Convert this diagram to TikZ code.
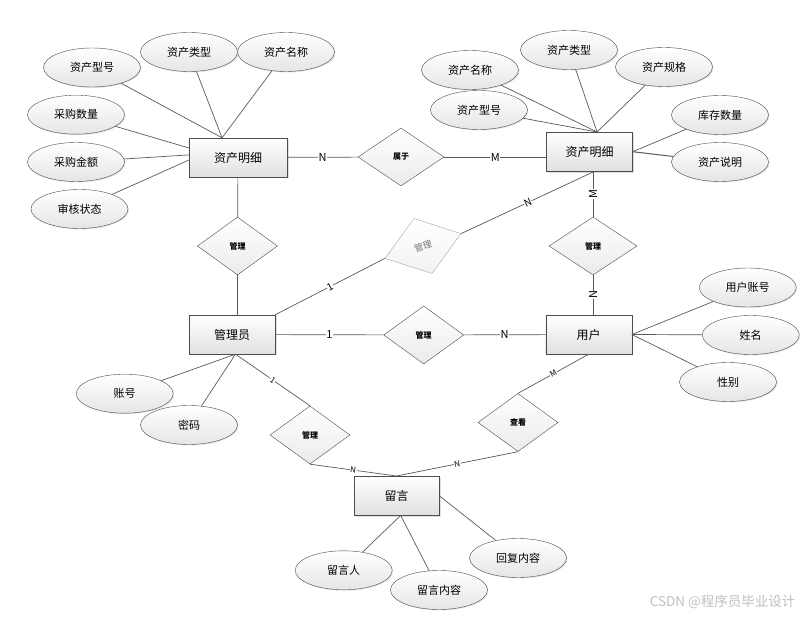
\documentclass[tikz,border=0pt]{standalone}
\usepackage{fontspec}
\setmainfont{Noto Sans CJK SC}
\usetikzlibrary{positioning,shapes.geometric,shadows,calc}

\begin{document}
\begin{tikzpicture}[x=1pt,y=-1pt,
  entity/.style={draw=black!70,top color=white,bottom color=black!12,minimum width=86,minimum height=39,inner sep=0pt,font=\fontsize{12}{14}\selectfont,drop shadow={shadow xshift=1.5pt,shadow yshift=-1.5pt,opacity=0.25}},
  attr/.style={ellipse,draw=black!70,top color=white,bottom color=black!10,minimum width=97,minimum height=39,inner sep=0pt,font=\fontsize{11}{13}\selectfont,drop shadow={shadow xshift=1pt,shadow yshift=-1pt,opacity=0.2}},
  rel/.style={diamond,draw=black!70,top color=white,bottom color=black!8,minimum width=80,minimum height=58,inner sep=0pt,font=\bfseries\fontsize{8}{10}\selectfont},
  link/.style={draw=black!65,line width=0.7pt},
  card/.style={fill=white,inner sep=0.5pt,font=\fontsize{11}{12}\selectfont},
  smallcard/.style={card,font=\fontsize{8}{9}\selectfont}]
\useasboundingbox (0,0) rectangle (811,617);

\node[entity,minimum width=98] (dlL) at (238,157.5) {资产明细};
\node[entity] (dlR) at (589.5,151.7) {资产明细};
\node[entity] (gly) at (232,334.5) {管理员};
\node[entity] (yh) at (588.7,334.5) {用户};
\node[entity,minimum width=85] (ly) at (396.5,495.7) {留言};

\node[rel,minimum width=86] (sy) at (401,157) {属于};
\node[rel] (glA) at (237.5,246) {管理};
\node[rel,rotate=18,draw=black!35,bottom color=black!5,text=black!55,font=\fontsize{9}{10}\selectfont] (glB) at (423,246) {管理};
\node[rel,minimum width=88] (glC) at (593,246) {管理};
\node[rel] (glD) at (423.7,335) {管理};
\node[rel] (glE) at (310,435) {管理};
\node[rel] (ck) at (518,422.5) {查看};

\node[attr] (xhL) at (92,67.5) {资产型号};
\node[attr] (lxL) at (189,52) {资产类型};
\node[attr] (mcL) at (286,52) {资产名称};
\node[attr] (cgsl) at (76,114.7) {采购数量};
\node[attr] (cgje) at (76,162) {采购金额};
\node[attr] (shzt) at (79.5,209) {审核状态};

\node[attr] (mcR) at (470,70) {资产名称};
\node[attr] (lxR) at (569,50) {资产类型};
\node[attr] (gg) at (664,67) {资产规格};
\node[attr] (xhR) at (479,110) {资产型号};
\node[attr] (kcsl) at (720,115) {库存数量};
\node[attr] (zcsm) at (720,162) {资产说明};

\node[attr] (yhzh) at (747.7,287.5) {用户账号};
\node[attr] (xm) at (750.7,335) {姓名};
\node[attr] (xb) at (728,382) {性别};

\node[attr] (zh) at (124.7,393.7) {账号};
\node[attr] (mm) at (189,425) {密码};

\node[attr] (lyr) at (343.7,570.3) {留言人};
\node[attr] (lynr) at (439,590) {留言内容};
\node[attr] (hfnr) at (518,558) {回复内容};

\node[text=black!25,font=\fontsize{13.5}{15}\selectfont,anchor=east] (wm) at (799,602) {CSDN @程序员毕业设计};

\draw[link] (xhL) -- (dlL.129);
\draw[link] (lxL) -- (dlL.129);
\draw[link] (mcL) -- (dlL.129);
\draw[link] (cgsl) -- (dlL.169);
\draw[link] (cgje) -- (dlL.177);
\draw[link] (shzt) -- (dlL.-177);

\draw[link] (mcR) -- (dlR.69);
\draw[link] (lxR) -- (dlR.69);
\draw[link] (gg) -- (dlR.69);
\draw[link] (xhR) -- (dlR.69);
\draw[link] (kcsl) -- (dlR.east);
\draw[link,line width=1pt] (zcsm) -- (dlR.east);

\draw[link] (yhzh) -- (yh.east);
\draw[link] (xm) -- (yh.east);
\draw[link] (xb) -- (yh.east);

\draw[link] (zh) -- (gly.-80);
\draw[link] (mm) -- (gly.-80);

\draw[link] (lyr) -- (ly.-78);
\draw[link] (lynr) -- (ly.-78);
\draw[link] (hfnr) -- (ly.east);

\draw[link] (dlL) -- node[card] {N} (sy);
\draw[link] (sy.east) -- node[card] {M} (sy.east -| dlR.west);
\draw[link] (dlL) -- (glA);
\draw[link] (glA.south) -- (glA.south |- gly.north);
\draw[link] (gly.north east) -- node[card,sloped,font=\fontsize{10}{11}\selectfont] {1} (glB.west);
\draw[link] (glB.east) -- node[card,sloped,font=\fontsize{10}{11}\selectfont] {N} (dlR.-76);
\draw[link] (glC.north |- dlR.south) -- node[card,rotate=90] {M} (glC.north);
\draw[link] (glC.south) -- node[card,rotate=90] {N} (glC.south |- yh.north);
\draw[link] (gly) -- node[card] {1} (glD);
\draw[link] (glD) -- node[card] {N} (yh);
\draw[link] (gly.-80) -- node[smallcard,sloped] {1} (glE.north);
\draw[link] (glE.south) -- node[smallcard,sloped] {N} (ly.north);
\draw[link] (yh.south) -- node[smallcard,sloped] {M} (ck.north);
\draw[link] (ck.south) -- node[smallcard,sloped] {N} (ly.north);
\end{tikzpicture}
\end{document}
